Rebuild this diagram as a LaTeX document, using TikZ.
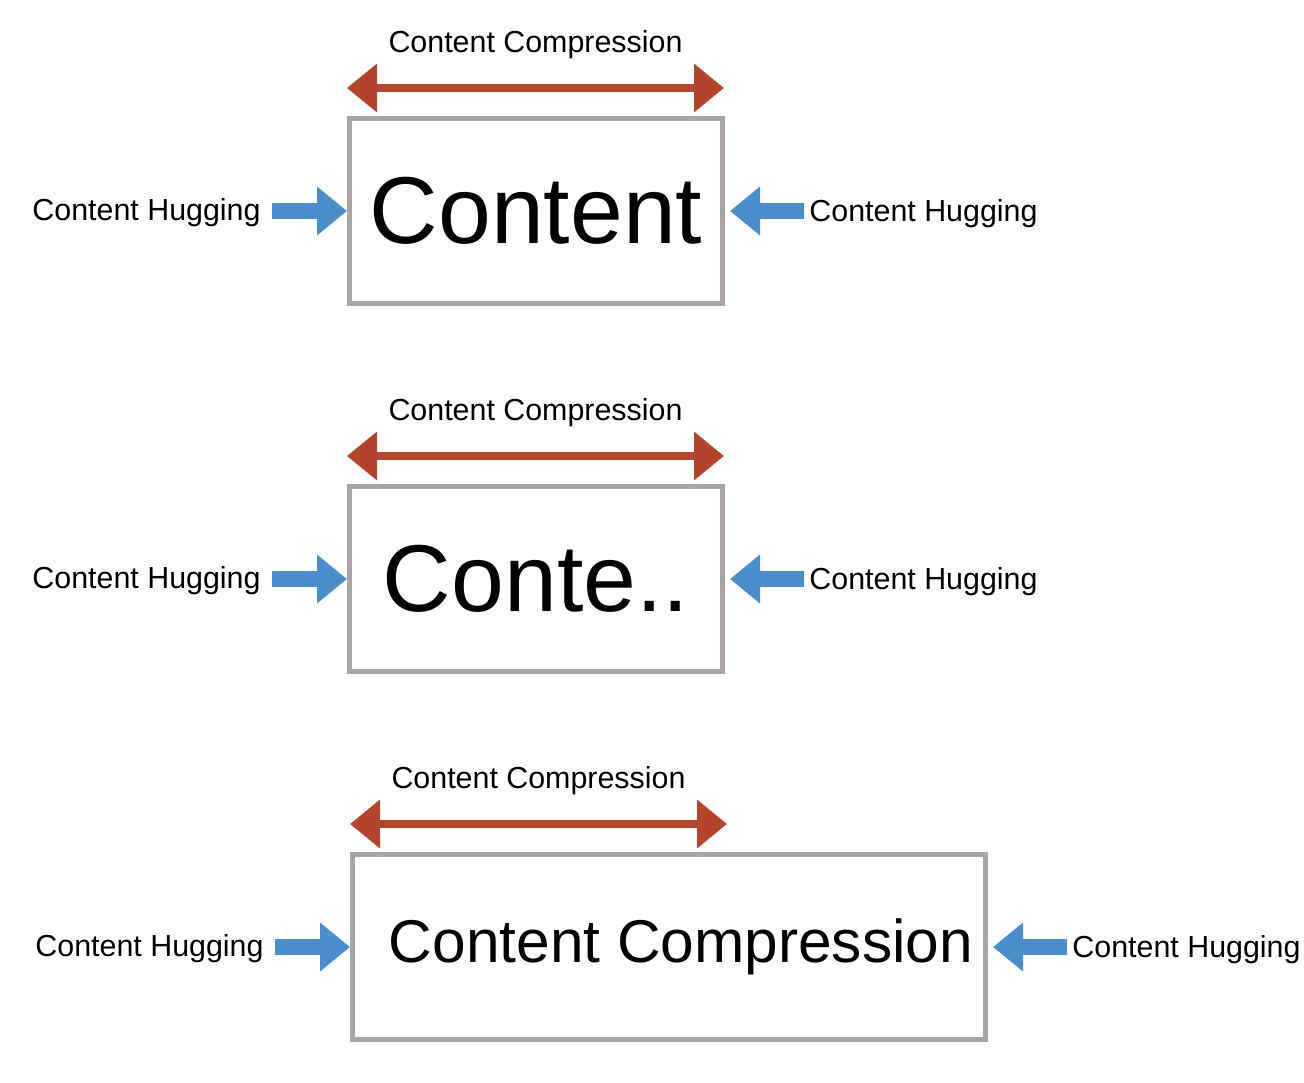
\documentclass[tikz,border=0pt]{standalone}
\usepackage{fontspec}
\setmainfont{Liberation Sans}
\usetikzlibrary{arrows.meta,positioning,calc,shadows}
\definecolor{hugblue}{HTML}{4A8FCB}
\definecolor{compred}{HTML}{B5442F}
\definecolor{boxgray}{HTML}{A9A5A5}
\tikzset{
  lbl/.style={font=\fontsize{15.2}{18}\selectfont,inner sep=0pt},
  contentbox/.style={draw=boxgray,line width=2.5pt,fill=white,minimum height=92.5pt,inner sep=0pt,
    drop shadow={shadow xshift=1.2pt,shadow yshift=-1.2pt,opacity=.3}},
  hug/.style={hugblue,line width=8pt,-{Triangle[length=15pt,width=23.5pt]}},
  comp/.style={compred,line width=3.6pt,{Triangle[length=15pt,width=23.5pt]}-{Triangle[length=15pt,width=23.5pt]}},
}

\begin{document}
\begin{tikzpicture}[x=0.5pt,y=-0.5pt]
	\useasboundingbox (0,0) rectangle (1304,1082);
	\node[contentbox,minimum width=186.5pt,font=\fontsize{47.5}{50}\selectfont] (box1) at (536,211) {Content};
	\node[contentbox,minimum width=186.5pt,font=\fontsize{47.5}{50}\selectfont] (box2) at (536,579) {Conte..};
	\node[contentbox,minimum width=316.5pt,font=\fontsize{30.2}{34}\selectfont] (box3) at (669,947) {\hspace*{12pt}Content Compression};
	\foreach \b in {box1,box2,box3}{
		\draw[comp] ($(\b.north west)+(0,-28)$) coordinate (\b-cl) -- ($(\b.north west)+(377,-28)$) coordinate (\b-cr);
		\node[lbl] (\b-top) at ($(\b-cl)!.5!(\b-cr)+(0,-43)$) {Content Compression};
		\draw[hug] ($(\b.west)+(-75,0)$) coordinate (\b-hl) -- (\b.west);
		\node[lbl,left=5.5pt of \b-hl,yshift=-1pt] (\b-left) {Content Hugging};
		\draw[hug] ($(\b.east)+(79,0)$) coordinate (\b-hr) -- ($(\b.east)+(5,0)$);
		\node[lbl,right=2.5pt of \b-hr,yshift=-1.5pt] (\b-right) {Content Hugging};
	}
\end{tikzpicture}
\end{document}
